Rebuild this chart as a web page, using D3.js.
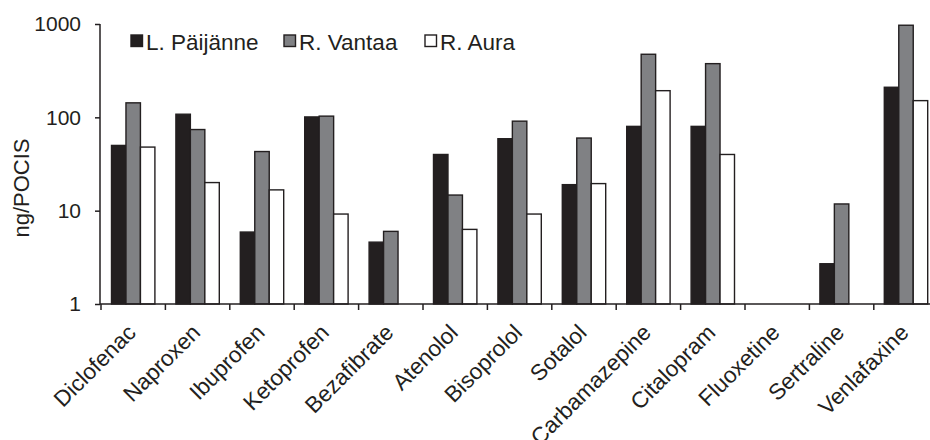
<!DOCTYPE html>
<html>
<head>
<meta charset="utf-8">
<script src="https://cdn.jsdelivr.net/npm/d3@7/dist/d3.min.js"></script>
<style>
  html, body { margin: 0; padding: 0; background: #fff; }
  svg { display: block; font-family: "Liberation Sans", Arial, sans-serif; }
</style>
</head>
<body>
<svg id="chart" width="930" height="440"></svg>
<script>
// Pharmaceutical concentrations per sampler, three sampling sites
const categories = ["Diclofenac", "Naproxen", "Ibuprofen", "Ketoprofen", "Bezafibrate", "Atenolol",
  "Bisoprolol", "Sotalol", "Carbamazepine", "Citalopram", "Fluoxetine", "Sertraline", "Venlafaxine"];
const seriesNames = ["L. Päijänne", "R. Vantaa", "R. Aura"];
// null = not detected (no bar)
const paijanne = [50, 108, 5.9, 101, 4.6, 40, 59, 19, 80, 80, null, 2.7, 210];
const vantaa   = [143, 74, 43, 103, 6, 14.7, 91, 60, 474, 376, null, 11.8, 970];
const aura     = [48, 20, 16.7, 9.2, null, 6.3, 9.2, 19.5, 193, 40, null, null, 151];
const yTicks = [1, 10, 100, 1000];
const yLabel = "ng/POCIS";

const seriesValues = [paijanne, vantaa, aura];
const fills = ["#231f20", "#808184", "#ffffff"];
const stroke = "#231f20";
const textColor = "#231f20";

const svg = d3.select("#chart");
const plot = { left: 100, top: 24, bottom: 304, step: 64.4 };

const x0 = d3.scaleBand()
  .domain(categories)
  .range([plot.left + 1, plot.left + 1 + plot.step * categories.length])
  .paddingInner(0).paddingOuter(0);
const x1 = d3.scaleBand()
  .domain(seriesNames)
  .range([10.5, plot.step - 10.5])
  .padding(0);
const y = d3.scaleLog().domain([1, 1000]).range([plot.bottom, plot.top]);

// bars
const rows = [];
categories.forEach((c, i) => {
  seriesNames.forEach((s, j) => {
    const v = seriesValues[j][i];
    if (v != null) rows.push({ c, s, j, v });
  });
});
svg.append("g").selectAll("rect").data(rows).join("rect")
  .attr("x", d => x0(d.c) + x1(d.s))
  .attr("y", d => y(d.v))
  .attr("width", x1.bandwidth())
  .attr("height", d => y(1) - y(d.v))
  .attr("fill", d => fills[d.j])
  .attr("stroke", stroke)
  .attr("stroke-width", 1.4);

// y axis
const yAxis = d3.axisLeft(y).tickValues(yTicks).tickFormat(d3.format("d")).tickSize(5).tickPadding(14);
const gy = svg.append("g").attr("transform", `translate(${plot.left},0)`).call(yAxis);
gy.select(".domain").attr("d", `M0,${plot.top}V${plot.bottom}`).attr("stroke", stroke).attr("stroke-width", 1.5);
gy.selectAll(".tick line").attr("stroke", stroke).attr("stroke-width", 1.5);
gy.selectAll(".tick text").attr("font-size", 21).attr("fill", textColor)
  .attr("font-family", "Liberation Sans, Arial, sans-serif");

// x axis: line plus ticks at category boundaries
const gx = svg.append("g");
gx.append("line")
  .attr("x1", plot.left).attr("x2", x0.range()[1])
  .attr("y1", plot.bottom).attr("y2", plot.bottom)
  .attr("stroke", stroke).attr("stroke-width", 1.5);
gx.selectAll("line.tk").data(d3.range(categories.length + 1)).join("line")
  .attr("class", "tk")
  .attr("x1", i => x0.range()[0] + i * x0.step())
  .attr("x2", i => x0.range()[0] + i * x0.step())
  .attr("y1", plot.bottom).attr("y2", plot.bottom + 6)
  .attr("stroke", stroke).attr("stroke-width", 1.5);
gx.selectAll("text").data(categories).join("text")
  .attr("transform", d => `translate(${x0(d) + x0.bandwidth() / 2 + 4},${plot.bottom + 30}) rotate(-45)`)
  .attr("text-anchor", "end")
  .attr("font-size", 22.5)
  .attr("fill", textColor)
  .text(d => d);

// y axis title
svg.append("text")
  .attr("transform", `translate(29,188) rotate(-90)`)
  .attr("text-anchor", "middle")
  .attr("font-size", 22)
  .attr("fill", textColor)
  .text(yLabel);

// legend
const legendX = [131, 284, 425];
const lg = svg.append("g");
seriesNames.forEach((s, j) => {
  lg.append("rect")
    .attr("x", legendX[j]).attr("y", 35)
    .attr("width", 11.5).attr("height", 11.5)
    .attr("fill", fills[j]).attr("stroke", stroke).attr("stroke-width", 1.4);
  lg.append("text")
    .attr("x", legendX[j] + 15).attr("y", 49.5)
    .attr("font-size", 22.5)
    .attr("fill", textColor)
    .text(s);
});
</script>
</body>
</html>
